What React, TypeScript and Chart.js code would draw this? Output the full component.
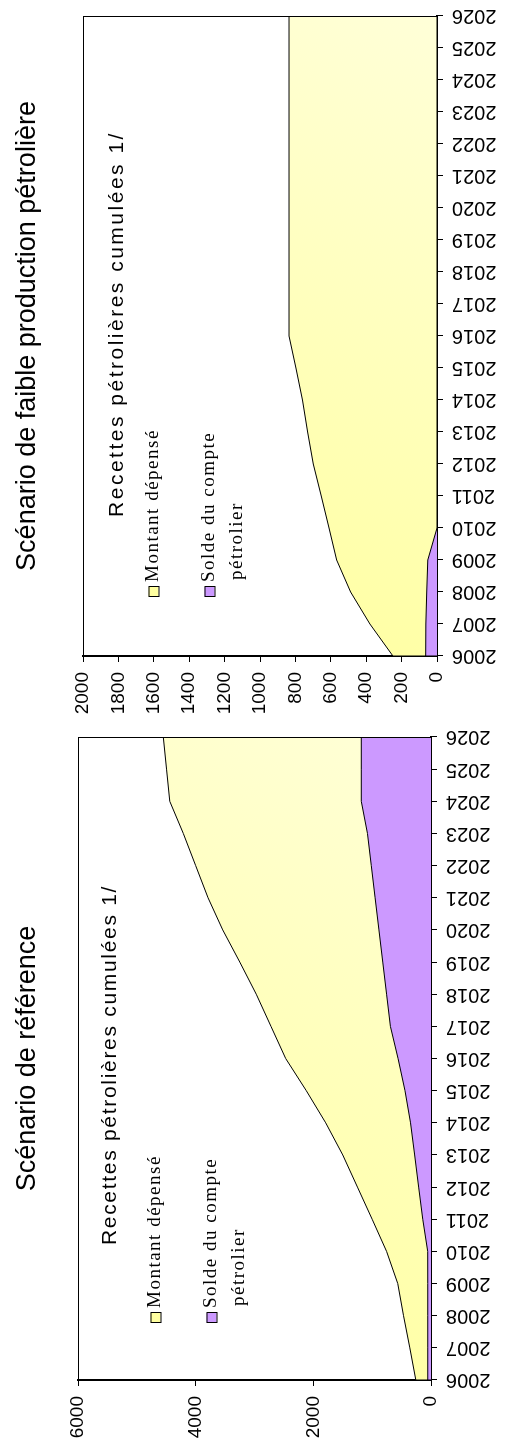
import React, { useEffect, useRef } from 'react';
import { Chart, registerables } from 'chart.js';

Chart.register(...registerables);

const YEARS = ['2006', '2007', '2008', '2009', '2010', '2011', '2012', '2013', '2014', '2015', '2016',
  '2017', '2018', '2019', '2020', '2021', '2022', '2023', '2024', '2025', '2026'];

// Scénario de faible production pétrolière
const FAIBLE_SOLDE = [64, 63, 58, 52, 0, 0, 0, 0, 0, 0, 0, 0, 0, 0, 0, 0, 0, 0, 0, 0, 0];
const FAIBLE_MONTANT = [185, 316, 430, 515, 610, 654, 699, 731, 760, 797, 836, 836, 836, 836, 836, 836, 836, 836, 836, 836, 836];

// Scénario de référence
const REF_SOLDE = [55, 55, 55, 55, 56, 140, 210, 278, 348, 442, 560, 690, 755, 820, 885, 950, 1015, 1080, 1185, 1185, 1185];
const REF_MONTANT = [203, 305, 412, 510, 699, 860, 1040, 1222, 1442, 1678, 1910, 2030, 2215, 2430, 2655, 2840, 2985, 3130, 3255, 3310, 3365];

const TITLE_FAIBLE = 'Scénario de faible production pétrolière';
const TITLE_REF = 'Scénario de référence';
const INNER_TITLE = 'Recettes pétrolières cumulées 1/';
const LEGEND_MONTANT = 'Montant dépensé';
const LEGEND_SOLDE = ['Solde du compte', 'pétrolier'];

const SANS = '"Liberation Sans", Arial, sans-serif';
const SERIF = '"Liberation Serif", "Times New Roman", serif';
const H = 506;

type PanelCfg = {
  title: string;
  solde: number[];
  montant: number[];
  yMax: number;
  yStep: number;
  W: number;
  top: number;
  axisW: number;
  axisH: number;
  padRight: number;
  titlePadTop: number;
  titlePadBottom: number;
  innerY: number;
  innerX: number;
  innerSpacing: number;
  legendX: number;
  legendY: number;
};

const decorPlugin = (cfg: PanelCfg) => ({
  id: 'decor',
  afterDraw(chart: any) {
    const { ctx, chartArea } = chart;
    const a = chartArea;
    ctx.save();
    // plot area frame
    ctx.strokeStyle = '#000';
    ctx.lineWidth = 1;
    ctx.strokeRect(a.left, a.top + 0.5, a.right - a.left - 0.5, a.bottom - a.top);
    // inner title
    ctx.fillStyle = '#000';
    ctx.font = `21px ${SANS}`;
    ctx.textAlign = 'center';
    ctx.textBaseline = 'middle';
    (ctx as any).letterSpacing = `${cfg.innerSpacing}px`;
    ctx.fillText(INNER_TITLE, cfg.innerX, cfg.innerY);
    (ctx as any).letterSpacing = '0px';
    // legend
    const sq = 10;
    const drawItem = (y: number, color: string, lines: string[]) => {
      ctx.fillStyle = color;
      ctx.fillRect(cfg.legendX, y - sq / 2, sq, sq);
      ctx.strokeStyle = '#000';
      ctx.lineWidth = 1;
      ctx.strokeRect(cfg.legendX + 0.5, y - sq / 2 + 0.5, sq, sq);
      ctx.fillStyle = '#000';
      ctx.font = `19px ${SERIF}`;
      ctx.textAlign = 'left';
      ctx.textBaseline = 'middle';
      (ctx as any).letterSpacing = '1.5px';
      lines.forEach((t, i) => ctx.fillText(t, cfg.legendX + 15 + (i > 0 ? 2 : 0), y + i * 28));
      (ctx as any).letterSpacing = '0px';
    };
    drawItem(cfg.legendY, '#FFFFA0', [LEGEND_MONTANT]);
    drawItem(cfg.legendY + 56, '#CC99FF', LEGEND_SOLDE);
    ctx.restore();
  },
});

function Panel({ cfg }: { cfg: PanelCfg }) {
  const ref = useRef<HTMLCanvasElement>(null);
  useEffect(() => {
    const yellow = (c: any) => {
      const chart = c.chart;
      const a = chart.chartArea;
      if (!a) return '#FFFFA0';
      const g = chart.ctx.createLinearGradient(a.left, a.top, a.right, a.bottom);
      g.addColorStop(0, '#FFFF99');
      g.addColorStop(1, '#FFFFD8');
      return g;
    };
    const chart = new Chart(ref.current as HTMLCanvasElement, {
      type: 'line',
      data: {
        labels: YEARS,
        datasets: [
          {
            label: LEGEND_SOLDE.join(' '),
            data: cfg.solde,
            backgroundColor: '#CC99FF',
            borderColor: '#000',
            borderWidth: 1,
            fill: 'origin',
            pointRadius: 0,
            tension: 0,
          },
          {
            label: LEGEND_MONTANT,
            data: cfg.montant,
            backgroundColor: yellow,
            borderColor: '#000',
            borderWidth: 1,
            fill: '-1',
            pointRadius: 0,
            tension: 0,
          },
        ],
      },
      options: {
        animation: false,
        responsive: false,
        devicePixelRatio: 1,
        layout: { padding: { left: 0, right: cfg.padRight, top: 0, bottom: 0 } },
        plugins: {
          legend: { display: false },
          tooltip: { enabled: false },
          title: {
            display: true,
            text: cfg.title,
            fullSize: false,
            color: '#000',
            font: { family: SANS, size: 27, weight: 'normal' },
            padding: { top: cfg.titlePadTop, bottom: cfg.titlePadBottom },
          },
        },
        scales: {
          x: {
            stacked: true,
            offset: false,
            grid: { display: true, drawOnChartArea: false, drawTicks: true, tickLength: 6, color: '#000', tickWidth: 1 },
            border: { display: true, color: '#000', width: 2 },
            ticks: {
              autoSkip: false,
              minRotation: 90,
              maxRotation: 90,
              padding: 9,
              color: '#000',
              font: { family: SANS, size: 20 },
            },
            afterFit: (s: any) => {
              s.height = cfg.axisH;
              s.paddingLeft = 0;
              s.paddingRight = 0;
            },
          },
          y: {
            stacked: true,
            min: 0,
            max: cfg.yMax,
            grid: { display: true, drawOnChartArea: false, drawTicks: true, tickLength: 6, color: '#000', tickWidth: 1 },
            border: { display: true, color: '#000', width: 2 },
            ticks: {
              stepSize: cfg.yStep,
              padding: 10,
              color: '#000',
              font: { family: SANS, size: 19 },
              callback: (v: any) => String(v),
            },
            afterFit: (s: any) => {
              s.width = cfg.axisW;
              s.paddingTop = 0;
              s.paddingBottom = 0;
            },
          },
        },
      } as any,
      plugins: [decorPlugin(cfg)],
    });
    return () => chart.destroy();
  }, []);
  return (
    <div
      style={{
        position: 'absolute',
        left: 0,
        top: cfg.top + cfg.W,
        width: cfg.W,
        height: H,
        transform: 'rotate(-90deg)',
        transformOrigin: '0 0',
      }}
    >
      <canvas ref={ref} width={cfg.W} height={H} style={{ display: 'block', width: cfg.W, height: H }} />
    </div>
  );
}

const FAIBLE_CFG: PanelCfg = {
  title: TITLE_FAIBLE,
  solde: FAIBLE_SOLDE,
  montant: FAIBLE_MONTANT,
  yMax: 2000,
  yStep: 200,
  W: 720,
  top: 0,
  axisW: 64,
  axisH: 69,
  padRight: 16,
  titlePadTop: 11,
  titlePadBottom: 39.6,
  innerX: 396,
  innerY: 117,
  innerSpacing: 2.5,
  legendX: 123,
  legendY: 153.5,
};

const REF_CFG: PanelCfg = {
  title: TITLE_REF,
  solde: REF_SOLDE,
  montant: REF_MONTANT,
  yMax: 6000,
  yStep: 2000,
  W: 723,
  top: 720,
  axisW: 63,
  axisH: 75,
  padRight: 17,
  titlePadTop: 11,
  titlePadBottom: 34.6,
  innerX: 378,
  innerY: 110,
  innerSpacing: 1.7,
  legendX: 120,
  legendY: 155.5,
};

export default function App() {
  return (
    <div style={{ position: 'absolute', left: 0, top: 0, width: 506, height: 1443, background: '#fff' }}>
      <Panel cfg={FAIBLE_CFG} />
      <Panel cfg={REF_CFG} />
    </div>
  );
}
